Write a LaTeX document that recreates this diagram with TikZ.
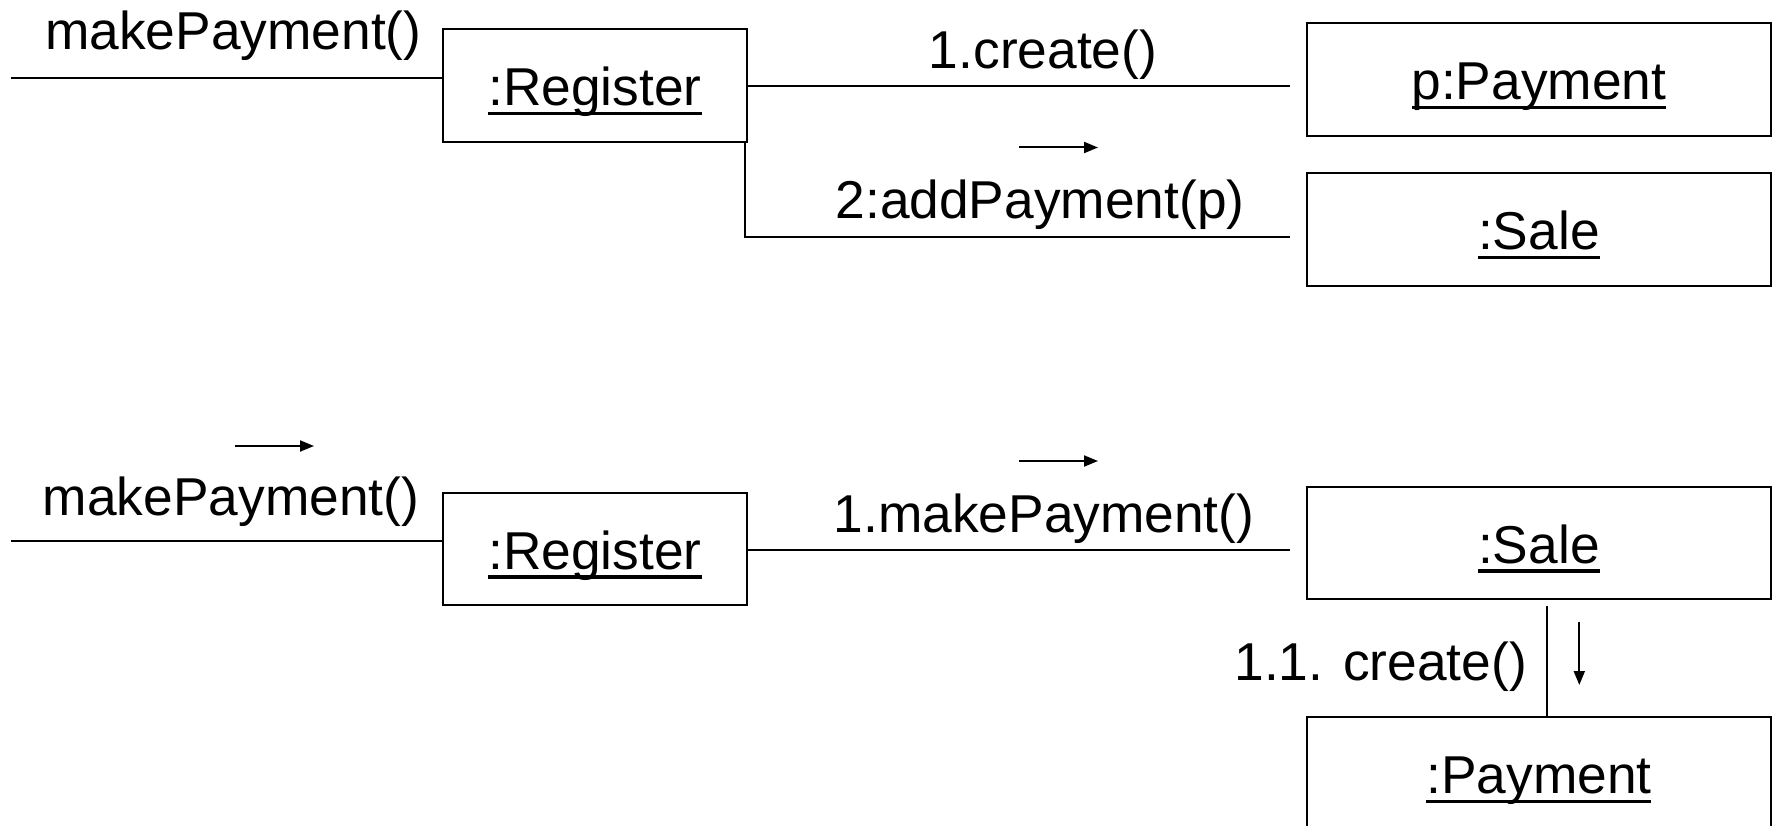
\documentclass[tikz,border=0pt]{standalone}
\usepackage{fontspec}
\setmainfont{Liberation Sans}
\usetikzlibrary{arrows.meta,calc}
\newcommand\ulobj[1]{\setbox0=\hbox{#1}\rlap{\rule[-9.5pt]{\wd0}{3.3pt}}\box0}
\begin{document}
\begin{tikzpicture}[x=1pt,y=-1pt,
  every node/.style={font=\fontsize{53.3}{60}\selectfont},
  obj/.style={draw, line width=2pt, inner sep=0pt, minimum width=464.3pt,
    minimum height=112.4pt, text height=40pt, text depth=0pt},
  regobj/.style={obj, minimum width=304.6pt},
  lbl/.style={inner sep=0pt, anchor=base},
  conn/.style={line width=2pt},
  dir/.style={line width=2pt, -{Triangle[length=14pt,width=11pt]}}]
\useasboundingbox (0,0) rectangle (1776,826);
\clip (0,0) rectangle (1776,826);

% ---------- top diagram ----------
\node[regobj] (reg1)  at (595,85.5)    {\ulobj{:Register}};
\node[obj]    (pay1)  at (1538.9,79.5) {\ulobj{p:Payment}};
\node[obj]    (sale1) at (1538.9,229.5){\ulobj{:Sale}};

\node[lbl] (m1)  at (233.3,50)  {makePayment()};
\node[lbl] (c1)  at (1043,69)   {1.create()};
\node[lbl] (ap1) at (1040,219)  {2:addPayment(p)};

\coordinate (in1) at (11,77.7);
\draw[conn] (in1) -- (reg1.west |- in1);
\draw[conn] (reg1.east |- 0,86) -- ([xshift=-16pt]pay1.west |- 0,86);
\draw[conn] ([xshift=-3.3pt]reg1.south east) |- ([xshift=-16pt,yshift=-7.2pt]sale1.west);

\coordinate (a1s) at (1019,147.5);
\coordinate (a1e) at (1098,147.5);
\draw[dir] (a1s) -- (a1e);

% ---------- bottom diagram ----------
\node[regobj] (reg2)  at (595,549.2)    {\ulobj{:Register}};
\node[obj]    (sale2) at (1538.9,543.2) {\ulobj{:Sale}};
\node[obj]    (paym2) at (1538.9,773.5) {\ulobj{:Payment}};

\node[lbl] (m2)  at (231,515)  {makePayment()};
\node[lbl] (mp2) at (1044,532) {1.makePayment()};
\node[lbl, anchor=base east] (cr2) at (1527,680) {1.1. create()};

\coordinate (in2) at (11,541.4);
\draw[conn] (in2) -- (reg2.west |- in2);
\draw[conn] (reg2.east |- 0,550) -- ([xshift=-16pt]sale2.west |- 0,550);
\draw[conn] ([xshift=8.4pt,yshift=-6pt]sale2.south) -- ([xshift=8.4pt]paym2.north);

\coordinate (a2s) at (1019,461);
\coordinate (a2e) at (1098,461);
\draw[dir] (a2s) -- (a2e);
\coordinate (a3s) at (235,446);
\coordinate (a3e) at (314,446);
\draw[dir] (a3s) -- (a3e);
\coordinate (a4s) at (1579.3,621.7);
\coordinate (a4e) at (1579.3,685);
\draw[dir] (a4s) -- (a4e);
\end{tikzpicture}
\end{document}
